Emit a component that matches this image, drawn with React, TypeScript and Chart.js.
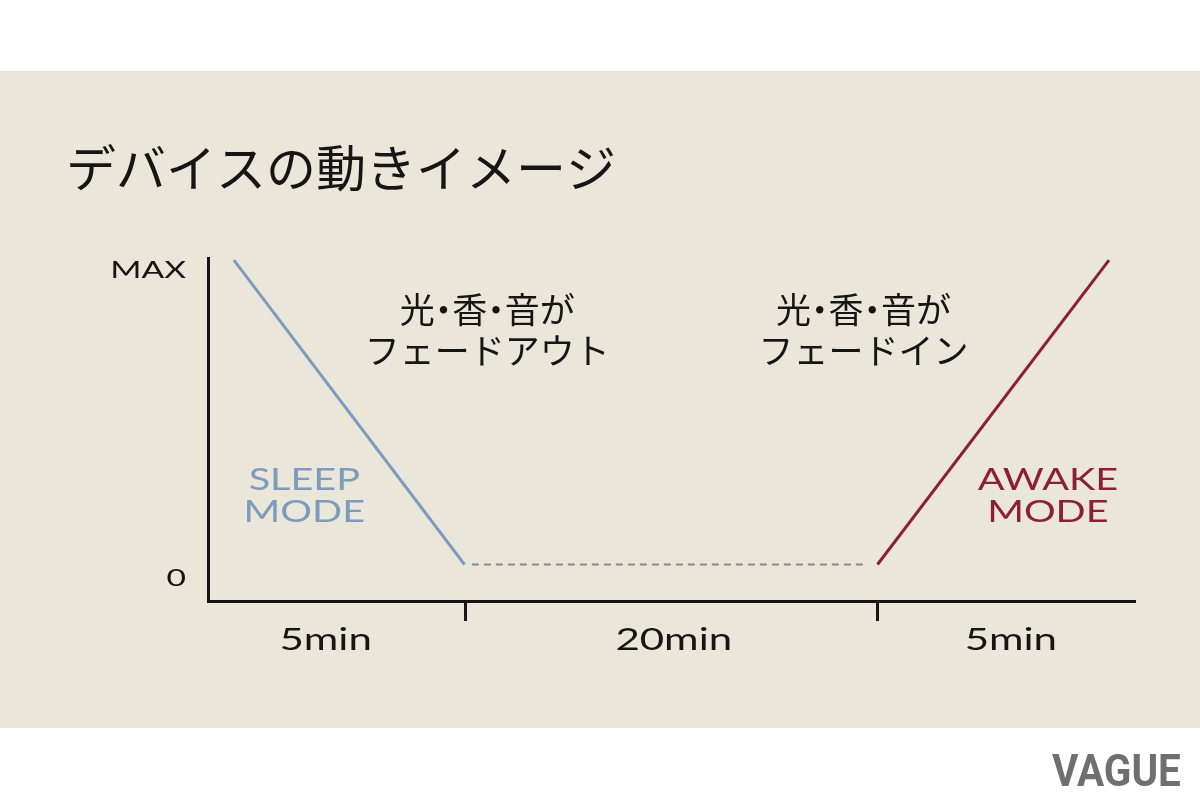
import React, { useEffect, useRef } from 'react';
import { Chart, registerables } from 'chart.js';

Chart.register(...registerables);

// ---- data ----
const titleText = 'デバイスの動きイメージ';
const sleepX = [2.8, 27.7];
const sleepLevel = [100, 0];
const idleX = [28.5, 71.0];
const idleLevel = [0, 0];
const awakeX = [72.3, 97.3];
const awakeLevel = [0, 100];
const segmentBounds = [27.8, 72.3];
const durationLabels = ['5min', '20min', '5min'];
const durationAt = [12.7, 50.3, 86.7];
const yTickLabels = ['MAX', '0'];
const yTickValues = [100, 0];
const noteOutLines = ['光・香・音が', 'フェードアウト'];
const noteInLines = ['光・香・音が', 'フェードイン'];
const noteAnchorX = [30.15, 70.8];
const noteAnchorY = 83.6;
const sleepModeLines = ['SLEEP', 'MODE'];
const awakeModeLines = ['AWAKE', 'MODE'];
const modeAnchorX = [10.4, 90.7];
const modeAnchorY = 24.4;

// ---- style ----
const BG = '#eae7da';
const INK = '#151515';
const SLEEP_COLOR = '#7e9bbb';
const AWAKE_COLOR = '#8c1f37';
const IDLE_COLOR = '#8a8a86';
const LATIN = 'Lato, "Noto Sans", sans-serif';
const JP = '"Noto Sans CJK JP", "Noto Sans", sans-serif';
const STRETCH = 1.4;

function wideText(ctx: CanvasRenderingContext2D, text: string, x: number, y: number, size: number, color: string, align: CanvasTextAlign, stretch = STRETCH, weight = '400', family = LATIN) {
  ctx.save();
  ctx.font = `${weight} ${size}px ${family}`;
  ctx.fillStyle = color;
  ctx.textAlign = align;
  ctx.textBaseline = 'alphabetic';
  ctx.translate(x, y);
  ctx.scale(stretch, 1);
  ctx.fillText(text, 0, 0);
  ctx.restore();
}

function jpText(ctx: CanvasRenderingContext2D, text: string, cx: number, cy: number, size: number, color: string, align: 'center' | 'left' = 'center') {
  ctx.save();
  ctx.font = `400 ${size}px ${JP}`;
  ctx.fillStyle = color;
  ctx.textBaseline = 'middle';
  ctx.textAlign = 'center';
  const chars = Array.from(text);
  const adv = chars.map((c) => (c === '・' ? size * 0.5 : ctx.measureText(c).width));
  const total = adv.reduce((a, b) => a + b, 0);
  let x = align === 'center' ? cx - total / 2 : cx;
  chars.forEach((c, i) => {
    ctx.fillText(c, x + adv[i] / 2, cy);
    x += adv[i];
  });
  ctx.restore();
}

const textPlugin = {
  id: 'texts',
  afterDraw(chart: any) {
    const ctx: CanvasRenderingContext2D = chart.ctx;
    const xs = chart.scales.x;
    const ys = chart.scales.y;

    // title
    jpText(ctx, titleText, 66, 168, 50, INK, 'left');

    // y labels
    const yNudge = [18, 22];
    yTickLabels.forEach((t, i) => {
      wideText(ctx, t, xs.left - 22, ys.getPixelForValue(yTickValues[i]) + yNudge[i], 24, INK, 'right');
    });

    // duration labels
    durationLabels.forEach((t, i) => {
      wideText(ctx, t, xs.getPixelForValue(durationAt[i]), xs.top + 49, 30, INK, 'center');
    });

    // notes
    [noteOutLines, noteInLines].forEach((lines, k) => {
      const cx = xs.getPixelForValue(noteAnchorX[k]);
      const cy = ys.getPixelForValue(noteAnchorY);
      lines.forEach((l, j) => jpText(ctx, l, cx, cy + j * 41, 35, INK));
    });

    // modes
    [[sleepModeLines, SLEEP_COLOR], [awakeModeLines, AWAKE_COLOR]].forEach(([lines, color]: any, k) => {
      const cx = xs.getPixelForValue(modeAnchorX[k]);
      const by = ys.getPixelForValue(modeAnchorY);
      lines.forEach((l: string, j: number) => wideText(ctx, l, cx, by + j * 32, 30, color, 'center', 1.32));
    });

    // logo
    wideText(ctx, 'VAGUE', 1052, 786, 44, '#6f6f6f', 'left', 0.92, '700', 'Roboto, sans-serif');
  },
};

const toPoints = (xs: number[], ys: number[]) => xs.map((x, i) => ({ x, y: ys[i] }));

export default function App() {
  const ref = useRef<HTMLCanvasElement>(null);
  useEffect(() => {
    const canvas = ref.current!;
    const chart = new Chart(canvas, {
      type: 'scatter',
      data: {
        datasets: [
          { label: 'sleep', data: toPoints(sleepX, sleepLevel), showLine: true, borderColor: SLEEP_COLOR, borderWidth: 3, pointRadius: 0 },
          { label: 'idle', data: toPoints(idleX, idleLevel), showLine: true, borderColor: IDLE_COLOR, borderWidth: 2, borderDash: [7, 5], pointRadius: 0 },
          { label: 'awake', data: toPoints(awakeX, awakeLevel), showLine: true, borderColor: AWAKE_COLOR, borderWidth: 3, pointRadius: 0 },
        ],
      },
      options: {
        responsive: false,
        animation: false,
        devicePixelRatio: 1,
        layout: { padding: { top: 258, right: 66, bottom: 139, left: 0 } },
        plugins: { legend: { display: false }, tooltip: { enabled: false }, title: { display: false } },
        scales: {
          x: {
            type: 'linear',
            min: 0,
            max: 100,
            afterFit: (s: any) => { s.height = 60; },
            afterBuildTicks: (s: any) => { s.ticks = segmentBounds.map((v) => ({ value: v })); },
            ticks: { display: false },
            grid: { display: true, drawOnChartArea: false, drawTicks: true, tickLength: 20, tickWidth: 3, tickColor: INK, color: INK, lineWidth: 3 },
            border: { display: true, color: INK, width: 3 },
          },
          y: {
            type: 'linear',
            min: -12.0,
            max: 100.7,
            afterFit: (s: any) => { s.width = 208; },
            ticks: { display: false },
            grid: { display: false },
            border: { display: true, color: INK, width: 3 },
          },
        },
      },
      plugins: [textPlugin],
    } as any);
    return () => chart.destroy();
  }, []);
  return (
    <div style={{ position: 'absolute', left: 0, top: 0, width: 1200, height: 800, background: '#ffffff', overflow: 'hidden' }}>
      <div style={{ position: 'absolute', left: 0, top: 71, width: 1200, height: 657, background: BG }} />
      <canvas ref={ref} width={1200} height={800} style={{ position: 'absolute', left: 0, top: 0, width: 1200, height: 800 }} />
    </div>
  );
}
